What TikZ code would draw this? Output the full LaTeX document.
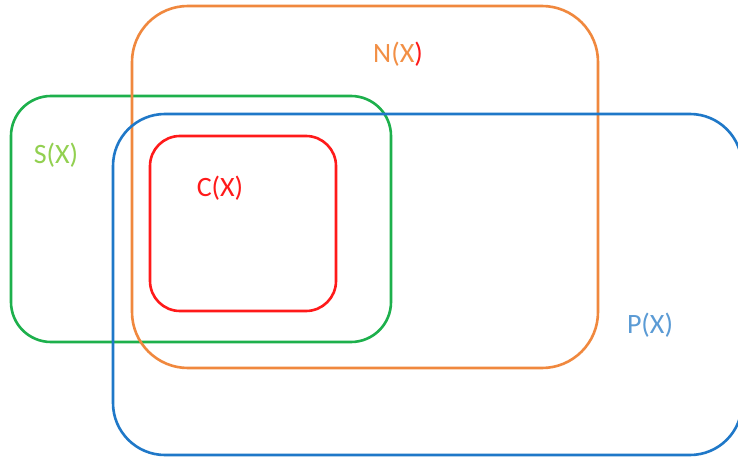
\documentclass[tikz,border=0pt]{standalone}
\usepackage{fontspec}
\setmainfont{Carlito}
\definecolor{setorange}{HTML}{F0883E}
\definecolor{setgreen}{HTML}{1DB04C}
\definecolor{setblue}{HTML}{1F78C8}
\definecolor{setred}{HTML}{FF1A1A}
\definecolor{txtorange}{HTML}{F28F45}
\definecolor{txtgreen}{HTML}{92D050}
\definecolor{txtblue}{HTML}{5B9BD5}
\begin{document}
\begin{tikzpicture}[x=1pt,y=-1pt,
  setbox/.style={line width=2.6pt},
  setlabel/.style={font=\fontsize{28}{32}\selectfont, inner sep=0pt}]
  \useasboundingbox (0,0) rectangle (738,457);
  \fill[white] (0,0) rectangle (738,457);
  \clip (0,0) rectangle (738,457);
  % green box S(X)
  \draw[setbox, setgreen, rounded corners=40pt] (11,96) rectangle (391,342);
  % orange box N(X)
  \draw[setbox, setorange, rounded corners=56pt] (132,6) rectangle (598,368);
  % blue box P(X), runs past the right edge
  \draw[setbox, setblue, rounded corners=52pt] (113,114) rectangle (742,455);
  % red box C(X)
  \draw[setbox, setred, rounded corners=30pt] (150,136) rectangle (336,311);
  % labels
  \node[setlabel, text=txtorange] (lblN) at (398,54) {N(X\textcolor{setred}{)}};
  \node[setlabel, text=txtgreen] (lblS) at (56,155) {S(X)};
  \node[setlabel, text=setred] (lblC) at (220,188) {C(X)};
  \node[setlabel, text=txtblue] (lblP) at (650,325) {P(X)};
\end{tikzpicture}
\end{document}
